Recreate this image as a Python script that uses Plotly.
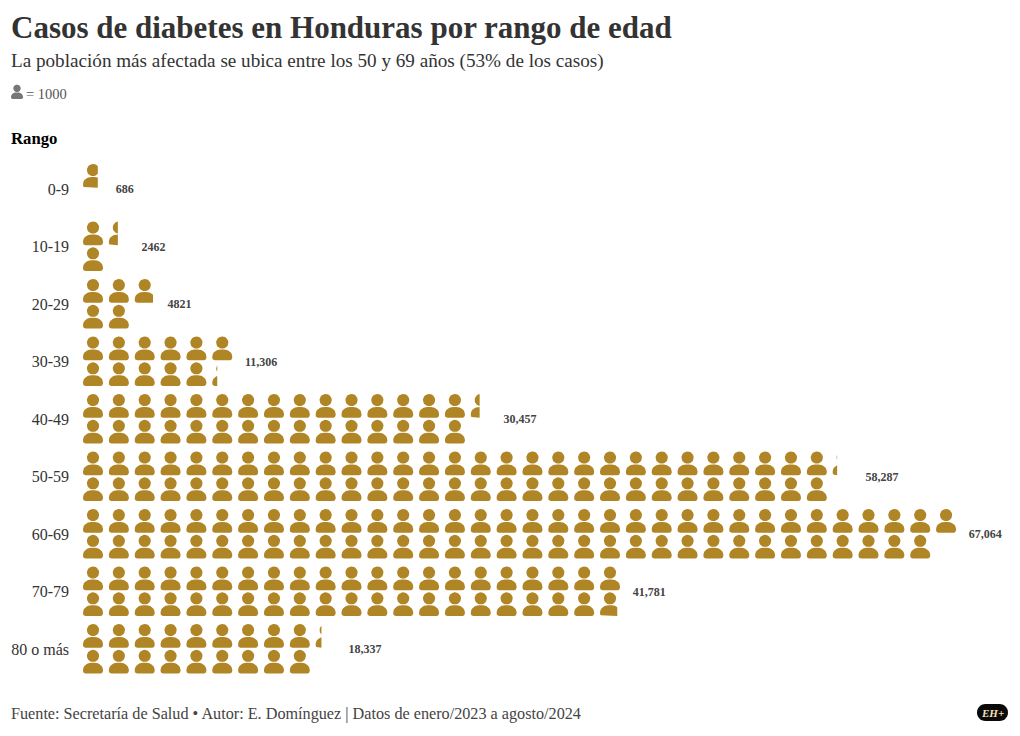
import math
import plotly.graph_objects as go

rangos = ["0-9", "10-19", "20-29", "30-39", "40-49", "50-59", "60-69", "70-79", "80 o más"]
casos = [686, 2462, 4821, 11306, 30457, 58287, 67064, 41781, 18337]
titulo = "Casos de diabetes en Honduras por rango de edad"
subtitulo = "La población más afectada se ubica entre los 50 y 69 años (53% de los casos)"
fuente = "Fuente: Secretaría de Salud • Autor: E. Domínguez | Datos de enero/2023 a agosto/2024"

PAGE = 8          # page margin around the figure
W, H = 1020 - PAGE, 736 - PAGE
SERIF = "Liberation Serif, serif"
ICON = "#B08526"
PITCH = 25.85     # px per icon cell
ROW = 57.5        # px per age band
X0_PX, ROW0_PX = 93.0, 189.0
LEFT, RIGHT, TOP, BOTTOM = 74, 1010, 160, 680   # plot area in window px


def arc(cx, cy, rx, ry, a0, a1, n=8):
    return [(cx + rx * math.cos(math.radians(a0 + (a1 - a0) * i / n)),
             cy + ry * math.sin(math.radians(a0 + (a1 - a0) * i / n))) for i in range(n + 1)]


HEAD = arc(0, -6, 6.1, 6.1, 0, 360, 28)
BODY = (arc(-1.5, 7.9, 8.5, 7, 180, 270) + arc(1.5, 7.9, 8.5, 7, 270, 360)
        + arc(7.5, 9.1, 2.5, 2.5, 0, 90, 4) + arc(-7.5, 9.1, 2.5, 2.5, 90, 180, 4))


def clip_right(poly, xmax):
    out = []
    for i, (x1, y1) in enumerate(poly):
        x2, y2 = poly[(i + 1) % len(poly)]
        if x1 <= xmax:
            out.append((x1, y1))
        if (x1 <= xmax) != (x2 <= xmax):
            t = (xmax - x1) / (x2 - x1)
            out.append((xmax, y1 + t * (y2 - y1)))
    return out


xs, ys = [], []
for r, v in enumerate(casos):
    units = v / 1000
    k = 0
    while k < units:
        frac = min(1, units - k)
        col, sub = k // 2, k % 2
        cy = (sub - 0.5) * PITCH
        for part in (HEAD, BODY):
            # a partial icon is cut at the matching share of its cell
            poly = part if frac >= 1 else clip_right(part, PITCH * (frac - 0.5))
            if not poly:
                continue
            for px, py in poly + poly[:1]:
                xs.append(col + px / PITCH)
                ys.append(r + (cy + py) / ROW)
            xs.append(None)
            ys.append(None)
        k += 1

fig = go.Figure()
fig.add_trace(go.Scatter(x=xs, y=ys, mode="lines", fill="toself", fillcolor=ICON,
                         line=dict(width=0, color=ICON), hoverinfo="skip", showlegend=False))

ncols = [math.ceil(v / 2000) for v in casos]
etiquetas = [f"{v:,}" if v >= 10000 else str(v) for v in casos]
fig.add_trace(go.Scatter(x=[n - 0.12 for n in ncols], y=[i + 1 / ROW for i in range(len(casos))],
                         mode="text", text=etiquetas, textposition="middle right",
                         textfont=dict(family=SERIF, size=12, color="#444", weight="bold"),
                         hoverinfo="skip", showlegend=False, cliponaxis=False))


def px_x(x):
    return (x - LEFT) / (RIGHT - LEFT)


def px_y(y):
    return (BOTTOM - y) / (BOTTOM - TOP)


def path(points):
    return "M" + "L".join(f"{px_x(x):.5f},{px_y(y):.5f}" for x, y in points) + "Z"


def scaled(points, cx, cy, s):
    return [(cx + x * s, cy + y * s) for x, y in points]


shapes = []
for part in (HEAD, BODY):
    shapes.append(dict(type="path", xref="paper", yref="paper", line_width=0, fillcolor="#777777",
                       path=path(scaled(part, 17, 92, 0.6))))
# logo pill
pill = arc(985.5, 712.5, 8.5, 8.5, 90, 270, 14) + arc(999.5, 712.5, 8.5, 8.5, 270, 450, 14)
shapes.append(dict(type="path", xref="paper", yref="paper", line_width=0, fillcolor="#0a0a0a",
                   path=path(pill)))


def note(text, x, y, size, color="#333", **kw):
    return dict(text=text, x=px_x(x), y=px_y(y), xref="paper", yref="paper", showarrow=False,
                xanchor=kw.pop("xanchor", "left"), yanchor="middle",
                borderpad=0, borderwidth=0,
                font=dict(family=SERIF, size=size, color=color, **kw))


fig.update_layout(
    width=W, height=H, autosize=False, paper_bgcolor="white", plot_bgcolor="white",
    margin=dict(l=LEFT - PAGE, r=1020 - RIGHT, t=TOP - PAGE, b=736 - BOTTOM, autoexpand=False),
    title=dict(text=f"<b>{titulo}</b>", x=(11 - PAGE) / W, xref="container", xanchor="left",
               y=1 - (27 - PAGE) / H, yref="container", yanchor="middle",
               font=dict(family=SERIF, size=31, color="#333")),
    xaxis=dict(visible=False,
               range=[(LEFT - X0_PX) / PITCH, (RIGHT - X0_PX) / PITCH], fixedrange=True),
    yaxis=dict(range=[(BOTTOM - ROW0_PX) / ROW, (TOP - ROW0_PX) / ROW], tickmode="array",
               tickvals=list(range(len(rangos))), ticktext=rangos, showgrid=False, zeroline=False,
               showline=False, ticks="", ticklabelstandoff=4,
               tickfont=dict(family=SERIF, size=16, color="#333"), fixedrange=True),
    shapes=shapes,
    annotations=[
        note(subtitulo, 11, 61, 19.15),
        note("= 1000", 26, 94, 14.5, "#555"),
        note("<b>Rango</b>", 11, 139, 16.7, "#000"),
        note(fuente, 11, 713.5, 16.2, "#444"),
        note("<b><i>EH+</i></b>", 992.5, 712.5, 11, "#F3E3B5", xanchor="center"),
    ],
)
fig.write_html("out.html")
